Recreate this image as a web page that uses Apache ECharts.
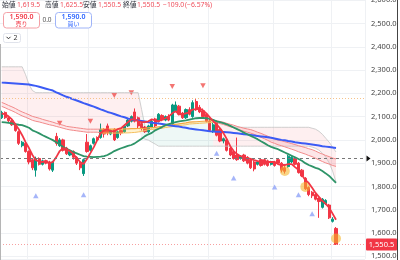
<!DOCTYPE html>
<html><head><meta charset="utf-8">
<script src="https://cdn.jsdelivr.net/npm/echarts@6/dist/echarts.min.js"></script>
<style>html,body{margin:0;padding:0;background:#fff}#c{width:400px;height:260px}</style>
</head><body><div id="c"></div>
<script>
// ---- data ----
// [open, close, low, high]
const candles = [
[2095,2118,2090,2125],[2118,2095,2090,2122],[2095,2082,2075,2100],[2082,2065,2060,2088],[2065,2040,2035,2070],
[2035,1985,1978,2040],[1975,1990,1968,1995],[1985,1950,1945,1990],[1950,1905,1895,1955],[1915,1880,1870,1920],
[1870,1920,1842,1928],[1920,1895,1890,1925],[1895,1910,1890,1915],[1910,1900,1895,1915],[1905,1875,1868,1910],
[1870,1905,1862,1910],[2015,1985,1975,2030],[1975,2000,1970,2008],[2000,1955,1950,2005],[1965,1940,1935,1970],
[1935,1950,1930,1955],[1950,1925,1915,1955],[1925,1900,1892,1930],[1900,1880,1870,1905],[1855,1915,1845,1920],
[1990,1950,1945,2025],[1955,1975,1950,1980],[1985,2005,1980,2010],[2010,2000,1995,2015],[2010,2045,2005,2070],
[2045,2025,2010,2050],[2060,2030,2020,2070],[2025,2040,2020,2045],[2045,2000,1995,2050],[2010,2035,2005,2040],
[2040,2030,2020,2045],[2035,2060,2030,2065],[2060,2085,2055,2090],[2080,2100,2075,2105],[2120,2080,2075,2135],
[2095,2060,2050,2100],[2070,2050,2040,2075],[2055,2035,2030,2060],[2035,2060,2030,2065],[2055,2080,2050,2085],
[2090,2060,2055,2095],[2080,2110,2075,2115],[2105,2085,2080,2110],[2085,2100,2080,2105],[2100,2085,2080,2110],
[2070,2150,2060,2155],[2125,2150,2120,2165],[2145,2110,2105,2150],[2115,2095,2090,2120],[2095,2130,2090,2135],
[2130,2110,2105,2140],[2100,2160,2095,2170],[2165,2130,2125,2175],[2140,2120,2115,2150],[2125,2100,2095,2135],
[2110,2080,2075,2115],[2080,2040,2035,2090],[2035,2065,2030,2075],[2080,2020,2015,2085],[2045,1995,1990,2055],
[1995,2005,1985,2010],[2000,1955,1950,2005],[1965,1935,1930,1970],[1950,1920,1915,1955],[1935,1915,1910,2010],
[1920,1930,1915,1935],[1935,1910,1905,1940],[1925,1900,1895,1930],[1915,1880,1875,1920],[1905,1875,1865,1910],
[1895,1905,1890,1910],[1915,1890,1885,1920],[1915,1895,1890,1920],[1910,1890,1885,1915],[1895,1905,1890,1910],
[1905,1890,1885,1910],[1915,1900,1895,1920],[1900,1870,1860,1905],[1880,1865,1855,1890],[1885,1930,1880,1935],
[1905,1925,1900,1930],[1920,1895,1890,1925],[1900,1860,1855,1905],[1870,1845,1840,1875],[1835,1790,1785,1840],
[1795,1765,1758,1800],[1775,1760,1750,1780],[1765,1745,1740,1770],[1750,1735,1665,1752],[1710,1745,1705,1750],
[1725,1740,1720,1745],[1720,1665,1660,1725],[1650,1659.5,1645,1668],[1619.5,1550.5,1550.5,1625.5]
];
const ma5 = [
2114,2110,2101,2088,2067,2046,2020,1990,1965,1935,
1913,1907,1905,1909,1900,1905,1926,1952,1965,1960,
1952,1939,1922,1905,1896,1918,1943,1969,1999,2029,
2041,2046,2037,2037,2046,2050,2063,2076,2088,2088,
2080,2076,2076,2080,2088,2084,2080,2088,2093,2101,
2114,2123,2110,2110,2114,2118,2131,2131,2135,2127,
2114,2097,2080,2067,2050,2029,2003,1973,1952,1939,
1930,1926,1922,1918,1913,1909,1905,1905,1905,1905,
1905,1896,1892,1892,1896,1896,1883,1871,1849,1828,
1815,1794,1772,1755,1738,1725,1709,1683,1657];
const ma25 = [
2076,2075,2073,2071,2068,2065,2063,2058,2052,2041,
2035,2028,2020,2013,2006,1999,1990,1980,1969,1962,
1955,1948,1942,1936,1930,1928,1927,1926,1927,1928,
1930,1935,1943,1952,1958,1964,1969,1974,1978,1985,
1995,2005,2016,2024,2030,2041,2048,2055,2063,2068,
2072,2076,2079,2082,2084,2087,2090,2093,2094,2094,
2093,2090,2086,2080,2076,2072,2067,2060,2053,2046,
2039,2031,2024,2017,2010,2003,1994,1986,1977,1970,
1965,1960,1953,1946,1939,1932,1925,1918,1910,1900,
1892,1886,1880,1875,1866,1856,1845,1830,1815];
const ma75 = [
2246,2245,2244,2243,2242,2241,2240,2239,2238,2235,
2232,2228,2224,2220,2216,2212,2204,2198,2191,2185,
2180,2174,2169,2164,2158,2153,2148,2143,2137,2131,
2126,2120,2116,2111,2106,2101,2097,2092,2088,2086,
2083,2081,2079,2076,2074,2072,2070,2068,2066,2063,
2061,2059,2057,2054,2052,2049,2047,2045,2043,2041,
2039,2037,2036,2035,2035,2034,2033,2032,2030,2028,
2026,2024,2023,2021,2019,2017,2015,2013,2011,2009,
2006,2003,2000,1998,1995,1993,1990,1988,1986,1984,
1982,1980,1978,1976,1973,1971,1969,1967,1965];
const bandUpper = [
2161,2155,2148,2142,2135,2127,2120,2114,2108,2101,
2097,2093,2088,2084,2080,2076,2071,2067,2063,2058,
2056,2054,2052,2050,2048,2046,2046,2046,2046,2046,
2046,2046,2046,2046,2046,2046,2047,2047,2048,2048,
2049,2049,2050,2052,2053,2054,2056,2058,2061,2063,
2065,2067,2069,2071,2073,2076,2077,2078,2079,2080,
2081,2082,2084,2082,2079,2076,2071,2067,2063,2058,
2054,2050,2047,2044,2039,2033,2028,2022,2016,2009,
2004,1999,1996,1992,1988,1984,1980,1975,1971,1967,
1962,1958,1952,1945,1939,1933,1928,1922,1918];
const bandLower = [
2144,2138,2131,2125,2118,2110,2103,2097,2091,2084,
2080,2077,2073,2069,2065,2062,2058,2054,2050,2046,
2043,2041,2039,2037,2035,2033,2033,2033,2033,2030,
2029,2029,2029,2029,2029,2029,2030,2030,2031,2032,
2034,2036,2040,2044,2045,2046,2048,2050,2053,2055,
2057,2059,2061,2063,2065,2068,2069,2070,2071,2072,
2073,2074,2076,2074,2070,2066,2061,2056,2052,2046,
2042,2037,2033,2029,2024,2017,2011,2005,1998,1990,
1985,1979,1975,1970,1965,1960,1955,1949,1944,1939,
1933,1928,1921,1914,1907,1901,1896,1890,1886];
const cloudTop = [
2314,2314,2314,2314,2314,2314,2314,2280,2238,2212,
2203,2203,2203,2203,2203,2203,2203,2203,2203,2203,
2203,2203,2203,2203,2203,2203,2203,2203,2203,2203,
2203,2203,2203,2203,2203,2203,2203,2203,2203,2203,
2203,2131,2060,2054,2055,2056,2057,2058,2061,2063,
2065,2067,2069,2071,2073,2076,2077,2078,2079,2080,
2081,2082,2084,2080,2076,2071,2065,2061,2056,2054,
2054,2054,2054,2054,2054,2054,2054,2054,2054,2054,
2054,2054,2054,2054,2054,2054,2054,2054,2054,2054,
2054,2050,2046,2037,2024,2007,1990,1969,1948];
const cloudBottom = [
2161,2155,2148,2142,2135,2127,2120,2114,2108,2101,
2097,2093,2088,2084,2080,2076,2071,2067,2063,2058,
2056,2054,2052,2050,2048,2046,2046,2046,2046,2046,
2046,2046,2046,2046,2046,2046,2047,2047,2048,2048,
2049,2012,2003,1999,1990,1982,1973,1973,1973,1973,
1973,1973,1973,1973,1973,1973,1973,1973,1973,1973,
1973,1973,1973,1973,1973,1973,1973,1973,1973,1973,
1973,1973,1973,1973,1973,1973,1973,1973,1973,1973,
1973,1973,1973,1973,1973,1973,1973,1973,1973,1973,
1973,1969,1964,1956,1943,1926,1901,1866,1819];
const bearCloudRanges = [[0,41],[62,98]];
const bullCloudRanges = [[41,62]];
const bearBandRanges = [[0,29],[62,98]];
const bullBandRanges = [[29,62]];
const sellMarks = [[17,2071],[26,2080],[33,2191],[38,2203],[50,2229],[59,2233]];
const buyMarks = [[10,1760],[24,1764],[63,1943],[68,1836],[80,1798],[87,1764],[91,1683]];
const eventMarks = [[83,1866],[89,1798],[98,1576]];
const monthStarts = [8,26,45,61,80,97];
const levels = {support:1920, resist:2178, last:1550.5};
const headerItems = [['始値','label'],['1,619.5','val'],['高値','label'],['1,625.5','val'],['安値','label'],['1,550.5','val'],['終値','label'],['1,550.5','val'],['−109.0','val'],['(−6.57%)','val']];
const sellPrice = '1,590.0', buyPrice = '1,590.0', spread = '0.0', indicatorCount = '2';
const lastLabel = '1,550.5';
const topTick = 2600;
const N_CAT = 107;
const Y_MIN = 1489, Y_MAX = 2601, Y_SPLITS = 11;

// ---- build ----
const categories = Array.from({length:N_CAT},(_,i)=>String(i));
function mask(arr, ranges){return arr.map((v,i)=>ranges.some(r=>i>=r[0]&&i<=r[1])?v:null);}
const diff = (a,b)=>a.map((v,i)=>v-b[i]);
const RED='#f23645', GREEN='#089981';
const FONT='"Noto Sans","Noto Sans CJK JP",sans-serif';
const numFmt = v => v.toLocaleString('en-US',{minimumFractionDigits:1,maximumFractionDigits:1});
function lineS(data, color, width, extra){return Object.assign({type:'line',data,symbol:'none',lineStyle:{color,width},itemStyle:{color},silent:true,animation:false},extra||{});}
const series = [
  lineS(mask(cloudBottom,bearCloudRanges),'transparent',0,{stack:'bear'}),
  lineS(mask(diff(cloudTop,cloudBottom),bearCloudRanges),'transparent',0,{stack:'bear',areaStyle:{color:'rgba(242,54,69,0.11)'}}),
  lineS(mask(cloudBottom,bullCloudRanges),'transparent',0,{stack:'bull'}),
  lineS(mask(diff(cloudTop,cloudBottom),bullCloudRanges),'transparent',0,{stack:'bull',areaStyle:{color:'rgba(8,153,129,0.10)'}}),
  lineS(mask(bandLower,bearBandRanges),'transparent',0,{stack:'bandr'}),
  lineS(mask(diff(bandUpper,bandLower),bearBandRanges),'transparent',0,{stack:'bandr',areaStyle:{color:'rgba(242,54,69,0.18)'}}),
  lineS(mask(bandLower,bullBandRanges),'transparent',0,{stack:'bandy'}),
  lineS(mask(diff(bandUpper,bandLower),bullBandRanges),'transparent',0,{stack:'bandy',areaStyle:{color:'rgba(255,200,60,0.35)'}}),
  lineS(mask(cloudTop,[[0,42],[62,98]]),'#c4c4c4',0.8),
  lineS(mask(cloudBottom,[[41,98]]),'#c4c4c4',0.8),
  lineS(mask(bandUpper,bearBandRanges),'#f28a8a',1),
  lineS(mask(bandLower,bearBandRanges),'#f28a8a',1),
  lineS(mask(bandUpper,bullBandRanges),'#f5a742',1.2),
  lineS(mask(bandLower,bullBandRanges),'#f5c060',1),
  {type:'candlestick',data:candles,barWidth:'80%',animation:false,silent:true,
   itemStyle:{color:GREEN,color0:RED,borderColor:GREEN,borderColor0:RED,borderWidth:1},
   markLine:{silent:true,symbol:'none',animation:false,label:{show:false},data:[
     {yAxis:levels.support,lineStyle:{color:'#777',type:[3,3],width:1.2}},
     {yAxis:levels.resist,lineStyle:{color:'#f6c38a',type:[1,2],width:1}},
     {yAxis:levels.last,lineStyle:{color:'#f7a0a0',type:[1,2],width:1}}]}},
  lineS(ma75,'#3b5bf5',2),
  lineS(ma25,'#2e9468',1.8),
  lineS(ma5,RED,1.8),
  {type:'scatter',data:sellMarks,symbol:'triangle',symbolRotate:180,symbolSize:[5.5,5],itemStyle:{color:'#f0524f'},silent:true,animation:false},
  {type:'scatter',data:buyMarks,symbol:'triangle',symbolSize:[5.5,5],itemStyle:{color:'#8ea2f7'},silent:true,animation:false},
  {type:'scatter',data:eventMarks,symbol:'circle',symbolSize:10,itemStyle:{color:'rgba(245,180,40,0.72)'},silent:true,animation:false}
];
const fmt = v => (Math.abs(v % 100) < 1e-6 && v < topTick) ? numFmt(v) : '';
const chart = echarts.init(document.getElementById('c'),null,{renderer:'canvas'});
chart.setOption({
  animation:false,
  grid:{left:0,right:35,top:0,bottom:0,containLabel:false},
  xAxis:{type:'category',data:categories,boundaryGap:true,axisLine:{show:false},axisTick:{show:false},axisLabel:{show:false},
    splitLine:{show:true,interval:(i)=>monthStarts.includes(i),lineStyle:{color:'#eff1f4',width:1}}},
  yAxis:{type:'value',position:'right',min:Y_MIN,max:Y_MAX,splitNumber:Y_SPLITS,
    axisLine:{show:false},axisTick:{show:false},
    axisLabel:{color:'#444',fontSize:7.5,fontFamily:FONT,margin:6,formatter:fmt},
    splitLine:{lineStyle:{color:'#eff1f4',width:1}}},
  series
});
const py = chart.convertToPixel({yAxisIndex:0}, levels.last);
const pys = chart.convertToPixel({yAxisIndex:0}, levels.support);
const pyTop = chart.convertToPixel({yAxisIndex:0}, topTick);
const g = [];
const headX = [2,17,45,60,83,98,123,137,163,185];
headerItems.forEach((h,k)=>g.push({type:'text',x:headX[k],y:5.5,z:100,style:{text:h[0],fill:h[1]==='label'?'#2a2e39':'#ef4f5c',fontSize:6.8,fontFamily:FONT,verticalAlign:'middle',textVerticalAlign:'middle'}}));
function box(x,stroke,color,price,word){
  g.push({type:'rect',z:100,shape:{x:x,y:12.5,width:36,height:15.5,r:3},style:{fill:'#fff',stroke:stroke,lineWidth:1}});
  g.push({type:'text',z:101,x:x+18,y:17,style:{text:price,fill:color,fontSize:7,fontWeight:600,fontFamily:FONT,align:'center',textAlign:'center',verticalAlign:'middle',textVerticalAlign:'middle'}});
  g.push({type:'text',z:101,x:x+18,y:24.3,style:{text:word,fill:color,fontSize:6,fontFamily:FONT,align:'center',textAlign:'center',verticalAlign:'middle',textVerticalAlign:'middle'}});
}
box(3.5,'#f4a0a6',RED,sellPrice,'売り');
box(55.5,'#9fb4f8','#2962ff',buyPrice,'買い');
g.push({type:'text',z:101,x:47,y:20,style:{text:spread,fill:'#555',fontSize:6.5,fontFamily:FONT,align:'center',textAlign:'center',verticalAlign:'middle',textVerticalAlign:'middle'}});
g.push({type:'rect',z:100,shape:{x:3.5,y:33.5,width:17,height:9,r:2},style:{fill:'#fff',stroke:'#e0e3eb',lineWidth:1}});
g.push({type:'polyline',z:101,shape:{points:[[6.5,36.8],[8.5,38.8],[10.5,36.8]]},style:{stroke:'#333',lineWidth:1,fill:null}});
g.push({type:'text',z:101,x:13.5,y:38,style:{text:indicatorCount,fill:'#333',fontSize:7,fontFamily:FONT,verticalAlign:'middle',textVerticalAlign:'middle'}});
// top tick label, cut by the window edge as in the reference
g.push({type:'text',z:101,x:371,y:pyTop,style:{text:numFmt(topTick),fill:'#444',fontSize:7.5,fontFamily:FONT,verticalAlign:'middle',textVerticalAlign:'middle'}});
g.push({type:'line',z:90,shape:{x1:0.5,y1:44,x2:0.5,y2:260},style:{stroke:'#b5b5b5',lineWidth:1}});
g.push({type:'line',z:90,shape:{x1:397.5,y1:0,x2:397.5,y2:260},style:{stroke:'#444',lineWidth:1}});
g.push({type:'polygon',z:95,shape:{points:[[366.5,pys-3],[370.5,pys],[366.5,pys+3]]},style:{fill:'#111'}});
g.push({type:'rect',z:100,shape:{x:366,y:py-6,width:31,height:12,r:1},style:{fill:RED}});
g.push({type:'text',z:101,x:381.5,y:py,style:{text:lastLabel,fill:'#fff',fontSize:7.5,fontFamily:FONT,align:'center',textAlign:'center',verticalAlign:'middle',textVerticalAlign:'middle'}});
chart.setOption({graphic:g});
</script></body></html>
